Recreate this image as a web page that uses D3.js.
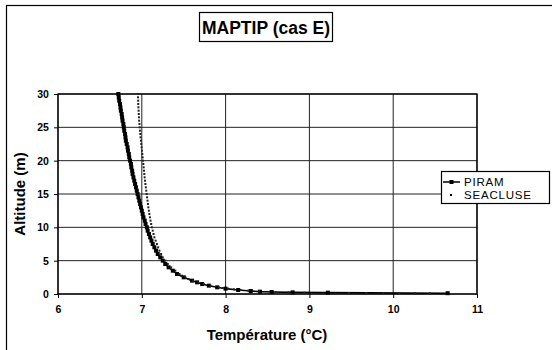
<!DOCTYPE html>
<html><head><meta charset="utf-8">
<script src="https://cdn.jsdelivr.net/npm/d3@7"></script>
<style>body{margin:0;background:#fff}svg{display:block;font-family:"Liberation Sans",Arial,sans-serif}</style>
</head><body><svg id="c" width="552" height="350"></svg>
<script>
const title = "MAPTIP (cas E)";
const xLabel = "Température (°C)";
const yLabel = "Altitude (m)";
const xTicks = [6, 7, 8, 9, 10, 11];
const yTicks = [0, 5, 10, 15, 20, 25, 30];
const seriesNames = ["PIRAM", "SEACLUSE"];

const piramAlt = [30,29.5,29,28.5,28,27.5,27,26.5,26,25.5,25,24.5,24,23.5,23,22.5,22,21.5,21,20.5,20,19.5,19,18.5,18,17.5,17,16.5,16,15.5,15,14.5,14,13.5,13,12.5,12,11.5,11,10.5,10,9.5,9,8.5,8,7.5,7,6.5,6,5.5,5,4.5,4,3.5,3,2.5,2,1.75,1.5,1.25,1,0.8,0.6,0.45,0.35,0.3,0.25,0.2,0.12];
const piramTemp = [6.72,6.725,6.73,6.74,6.745,6.75,6.76,6.765,6.77,6.78,6.785,6.79,6.8,6.805,6.81,6.82,6.83,6.835,6.845,6.85,6.86,6.87,6.875,6.885,6.89,6.9,6.91,6.92,6.93,6.94,6.95,6.96,6.97,6.98,6.99,7.0,7.01,7.02,7.035,7.045,7.06,7.07,7.085,7.1,7.115,7.13,7.15,7.17,7.19,7.22,7.25,7.28,7.32,7.37,7.42,7.5,7.6,7.66,7.72,7.8,7.9,8.0,8.15,8.3,8.41,8.55,8.8,9.22,10.65];

const seaAlt = [30,29.5,29,28.5,28,27.5,27,26.5,26,25.5,25,24.5,24,23.5,23,22.5,22,21.5,21,20.5,20,19.5,19,18.5,18,17.5,17,16.5,16,15.5,15,14.5,14,13.5,13,12.5,12,11.5,11,10.5,10,9.5,9,8.5,8,7.5,7,6.5,6,5.5,5,4.5,4,3.5,3,2.75,2.5,2.25,2,1.75,1.5,1.25,1,0.9,0.8,0.7,0.6,0.5,0.4,0.3,0.25,0.2,0.15,0.13,0.12,0.11,0.1,0.09];
const seaTemp = [6.955,6.955,6.957,6.958,6.96,6.962,6.964,6.966,6.968,6.972,6.975,6.978,6.982,6.985,6.99,6.994,6.998,7.002,7.006,7.01,7.014,7.018,7.022,7.026,7.03,7.034,7.038,7.043,7.048,7.053,7.058,7.063,7.068,7.073,7.078,7.084,7.09,7.097,7.104,7.112,7.12,7.13,7.14,7.15,7.165,7.18,7.195,7.21,7.23,7.25,7.28,7.31,7.35,7.4,7.45,7.48,7.52,7.56,7.61,7.67,7.74,7.82,7.92,7.97,8.03,8.1,8.18,8.27,8.4,8.6,8.75,8.94,9.47,9.68,9.88,10.07,10.26,10.44];

const svg = d3.select("#c");
const W = 552, H = 350;
const m = {l: 58, r: 552 - 477, t: 94, b: 350 - 294};
const x = d3.scaleLinear().domain([6, 11]).range([m.l, W - m.r]);
const y = d3.scaleLinear().domain([0, 30]).range([H - m.b, m.t]);

// outer frame
svg.append("rect").attr("x", 6.5).attr("y", 5.5).attr("width", 560).attr("height", 360)
  .attr("fill", "none").attr("stroke", "#000").attr("stroke-width", 1.2);

// title box
svg.append("rect").attr("x", 199.5).attr("y", 12.5).attr("width", 133).attr("height", 29)
  .attr("fill", "#fff").attr("stroke", "#000").attr("stroke-width", 1.2);
svg.append("text").attr("x", 266).attr("y", 33.5).attr("text-anchor", "middle")
  .attr("font-weight", "bold").attr("font-size", 17.5).text(title);

// grid
const g = svg.append("g");
g.selectAll(".vg").data(xTicks).join("line")
  .attr("x1", d => x(d)).attr("x2", d => x(d)).attr("y1", y(0)).attr("y2", y(30))
  .attr("stroke", "#222").attr("stroke-width", 1);
g.selectAll(".hg").data(yTicks).join("line")
  .attr("x1", x(6)).attr("x2", x(11)).attr("y1", d => y(d)).attr("y2", d => y(d))
  .attr("stroke", "#222").attr("stroke-width", 1);
// plot border
svg.append("rect").attr("x", x(6)).attr("y", y(30)).attr("width", x(11) - x(6)).attr("height", y(0) - y(30))
  .attr("fill", "none").attr("stroke", "#000").attr("stroke-width", 1.3);

// axes
const xAxis = svg.append("g").attr("transform", `translate(0,${y(0)})`)
  .call(d3.axisBottom(x).tickValues(xTicks).tickSize(4).tickFormat(d3.format("d")));
const yAxis = svg.append("g").attr("transform", `translate(${x(6)},0)`)
  .call(d3.axisLeft(y).tickValues(yTicks).tickSize(4).tickFormat(d3.format("d")));
[xAxis, yAxis].forEach(a => {
  a.select(".domain").remove();
  a.selectAll("line").attr("stroke", "#000");
  a.selectAll("text").attr("font-family", "Liberation Sans, Arial, sans-serif")
    .attr("font-weight", "bold").attr("font-size", 10.5).attr("fill", "#000");
});
xAxis.selectAll("text").attr("dy", "1.15em");
yAxis.selectAll("text").attr("dx", "-0.2em");

// axis labels
svg.append("text").attr("x", 267).attr("y", 340).attr("text-anchor", "middle")
  .attr("font-weight", "bold").attr("font-size", 15).text(xLabel);
svg.append("text").attr("transform", "translate(25,194) rotate(-90)").attr("text-anchor", "middle")
  .attr("font-weight", "bold").attr("font-size", 15).text(yLabel);

// data
const piram = piramAlt.map((a, i) => ({a, t: piramTemp[i]}));
const sea = seaAlt.map((a, i) => ({a, t: seaTemp[i]}));
const line = d3.line().x(d => x(d.t)).y(d => y(d.a));

svg.append("path").datum(piram).attr("d", line).attr("fill", "none")
  .attr("stroke", "#000").attr("stroke-width", 1.6);
svg.selectAll(".pm").data(piram).join("rect")
  .attr("x", d => x(d.t) - 2).attr("y", d => y(d.a) - 2).attr("width", 4).attr("height", 4)
  .attr("fill", "#000");
svg.selectAll(".sm").data(sea).join("rect")
  .attr("x", d => x(d.t) - 1).attr("y", d => y(d.a) - 1).attr("width", 2).attr("height", 2)
  .attr("fill", "#222");

// legend
const lg = svg.append("g");
lg.append("rect").attr("x", 441.5).attr("y", 171.5).attr("width", 108).attr("height", 32)
  .attr("fill", "#fff").attr("stroke", "#000").attr("stroke-width", 1.2);
lg.append("line").attr("x1", 443).attr("x2", 460).attr("y1", 182).attr("y2", 182)
  .attr("stroke", "#000").attr("stroke-width", 1.5);
lg.append("rect").attr("x", 449.5).attr("y", 180).attr("width", 4).attr("height", 4).attr("fill", "#000");
lg.append("rect").attr("x", 450).attr("y", 194).attr("width", 2).attr("height", 2).attr("fill", "#000");
lg.selectAll("text").data(seriesNames).join("text")
  .attr("x", 464).attr("y", (d, i) => 186 + i * 13).attr("font-size", 11.5)
  .attr("letter-spacing", 0.8).text(d => d);
</script></body></html>
